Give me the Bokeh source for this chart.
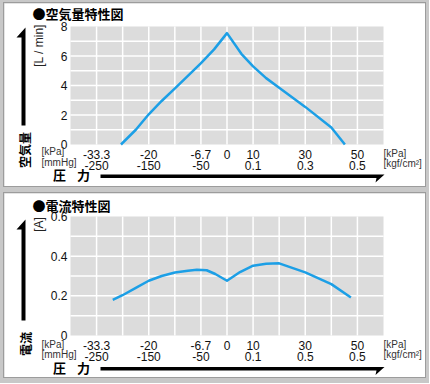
import numpy as np
from bokeh.plotting import figure
from bokeh.models import Range1d, FixedTicker, Label, PolyAnnotation, BoxAnnotation
from bokeh.layouts import column
from bokeh.embed import file_html
from bokeh.resources import INLINE

# ---------------- data ----------------
air_kpa = [-27.1, -23.3, -20, -16.7, -13.3, -10, -6.7, -3.3, 0, 5.5, 10, 15, 20, 30, 40, 45.2]
air_flow = [0, 1.0, 2.05, 2.95, 3.8, 4.65, 5.5, 6.45, 7.55, 6.15, 5.3, 4.5, 3.84, 2.55, 1.15, 0]

cur_kpa = [-29.2, -26.7, -23.3, -20, -16.7, -13.3, -10, -7.7, -5.2, -3, 0, 5, 10, 15, 20, 30, 40, 47.5]
cur_amp = [0.18, 0.203, 0.24, 0.276, 0.30, 0.318, 0.327, 0.331, 0.329, 0.31, 0.276, 0.32, 0.352, 0.362, 0.364, 0.318, 0.259, 0.192]

x_tick_kpa = ["-33.3", "-20", "-6.7", "0", "10", "30", "50"]
x_tick_sub_air = ["-250", "-150", "-50", "", "0.1", "0.3", "0.5"]
x_tick_sub_cur = ["-250", "-150", "-50", "", "0.1", "0.5", "0.5"]

air_yticks = [0, 2, 4, 6, 8]
air_ytick_labels = ["0", "2", "4", "6", "8"]
cur_yticks = [0, 0.2, 0.4, 0.6]
cur_ytick_labels = ["0", "0.2", "0.4", "0.6"]

LATIN = "Liberation Sans"
CJK = "Noto Sans CJK JP"
BLUE = "#1c9fe6"


def to_grid(kpa):
    k = np.asarray(kpa, dtype=float)
    return np.where(k < 0, k / (20.0 / 3.0), k / 10.0)


XMIN, XMAX = -6, 6
W = 421
AL, AT, AW = 66, 23, 313
REF_LEFT = 70  # reference x of the plot area's left edge


def make_chart(H, AH, xs_kpa, ys, ymax, ygrid, yticks, ylabels, sub_labels, fb_ref, texts, polys):
    ppx = AW / (XMAX - XMIN)
    ppy = AH / ymax
    xr = Range1d(XMIN - AL / ppx, XMAX + (W - AL - AW) / ppx)
    yr = Range1d(0 - (H - AT - AH) / ppy, ymax + AT / ppy)
    p = figure(width=W, height=H, x_range=xr, y_range=yr,
               output_backend="svg", toolbar_location=None,
               min_border=0, min_border_left=0, min_border_right=0,
               min_border_top=0, min_border_bottom=0)
    p.background_fill_color = "white"
    p.border_fill_color = "white"
    p.outline_line_color = None
    p.grid.visible = False

    p.add_layout(BoxAnnotation(left=XMIN, right=XMAX, bottom=0, top=ymax,
                               fill_color="#dcdcdc", fill_alpha=1.0, line_color=None,
                               level="underlay"))
    gx = list(range(XMIN + 1, XMAX))
    p.segment(x0=gx, y0=[0] * len(gx), x1=gx, y1=[ymax] * len(gx),
              line_color="white", line_width=1.5)
    p.segment(x0=[XMIN] * len(ygrid), y0=ygrid, x1=[XMAX] * len(ygrid), y1=ygrid,
              line_color="white", line_width=1.5)

    tick_pos = [int(v) for v in np.round(to_grid([float(t) for t in x_tick_kpa]))]
    overrides = {}
    for pos, a, b in zip(tick_pos, x_tick_kpa, sub_labels):
        overrides[pos] = a if b == "" else a + "\n" + b
    p.xaxis.fixed_location = 0
    p.yaxis.fixed_location = XMIN
    p.xaxis.ticker = FixedTicker(ticks=tick_pos)
    p.xaxis.major_label_overrides = overrides
    p.yaxis.ticker = FixedTicker(ticks=yticks)
    p.yaxis.major_label_overrides = {t: l for t, l in zip(yticks, ylabels)}
    for ax in (p.xaxis, p.yaxis):
        ax.axis_line_color = None
        ax.major_tick_line_color = None
        ax.minor_tick_line_color = None
        ax.major_tick_in = 0
        ax.major_tick_out = 0
        ax.major_label_text_font = LATIN
        ax.major_label_text_font_size = "12px"
        ax.major_label_text_color = "#111111"
    p.xaxis.major_label_standoff = 3
    p.xaxis.major_label_text_line_height = 0.82
    p.yaxis.major_label_standoff = 3

    p.line(to_grid(xs_kpa), ys, line_color=BLUE, line_width=2.5, line_join="round")

    def X(rx):
        return XMIN + (rx - REF_LEFT) / ppx

    def Y(ry):
        return (fb_ref - ry) / ppy

    for (rx, ry, txt, size, font, bold, align, angle, color) in texts:
        p.add_layout(Label(x=X(rx), y=Y(ry), text=txt,
                           text_font=font, text_font_size=f"{size}px",
                           text_font_style="bold" if bold else "normal",
                           text_align=align, text_baseline="middle", angle=angle,
                           text_color=color))
    for pxs, pys in polys:
        p.add_layout(PolyAnnotation(xs=[X(v) for v in pxs], ys=[Y(v) for v in pys],
                                    fill_color="black", fill_alpha=1.0, line_color=None))
    return p


R = np.pi / 2
top_texts = [
    (32, 13, "●空気量特性図", 13, CJK, True, "left", 0, "black"),
    (38.5, 45, "[L / min]", 12, LATIN, False, "center", R, "#222222"),
    (24, 149.5, "空気量", 12, CJK, True, "center", R, "black"),
    (41, 151, "[kPa]", 10, LATIN, False, "left", 0, "#333333"),
    (41, 162, "[mmHg]", 10, LATIN, False, "left", 0, "#333333"),
    (383, 153, "[kPa]", 10, LATIN, False, "left", 0, "#333333"),
    (383, 163, "[kgf/cm²]", 10, LATIN, False, "left", 0, "#333333"),
    (59, 174, "圧", 13, CJK, True, "center", 0, "black"),
    (83, 174, "力", 13, CJK, True, "center", 0, "black"),
]
top_polys = [
    ([25, 25, 21, 21, 16], [27, 125, 125, 37, 37]),
    ([100, 384, 375, 376, 100], [174, 174, 182, 177.5, 177.5]),
]

bot_texts = [
    (32, 205, "●電流特性図", 13, CJK, True, "left", 0, "black"),
    (38.5, 224, "[A]", 12, LATIN, False, "center", R, "#222222"),
    (25, 343.5, "電流", 12, CJK, True, "center", R, "black"),
    (41, 344, "[kPa]", 10, LATIN, False, "left", 0, "#333333"),
    (41, 354, "[mmHg]", 10, LATIN, False, "left", 0, "#333333"),
    (383, 344, "[kPa]", 10, LATIN, False, "left", 0, "#333333"),
    (383, 354, "[kgf/cm²]", 10, LATIN, False, "left", 0, "#333333"),
    (59, 367, "圧", 13, CJK, True, "center", 0, "black"),
    (83, 367, "力", 13, CJK, True, "center", 0, "black"),
]
bot_polys = [
    ([25, 25, 21, 21, 16], [219, 320, 320, 229, 229]),
    ([100, 384, 375, 376, 100], [366.5, 366.5, 374.5, 370, 370]),
]

# panel origins in the reference: top (4, 3), bottom (4, 193)
p1 = make_chart(183, 118, air_kpa, air_flow, 8, list(range(1, 8)), air_yticks, air_ytick_labels,
                x_tick_sub_air, 144 - 3, [(t[0], t[1] - 3) + t[2:] for t in top_texts],
                [(xs, [v - 3 for v in ys]) for xs, ys in top_polys])
p2 = make_chart(184, 119, cur_kpa, cur_amp, 0.6, [0.1, 0.2, 0.3, 0.4, 0.5], cur_yticks,
                cur_ytick_labels, x_tick_sub_cur, 335 - 193,
                [(t[0], t[1] - 193) + t[2:] for t in bot_texts],
                [(xs, [v - 193 for v in ys]) for xs, ys in bot_polys])
for p in (p1, p2):
    p.styles = {"outline": "1px solid #9c9c9c"}

layout = column(p1, p2, spacing=7,
                styles={"background-color": "#c8c8c8", "padding": "3px 4px 6px 4px"})

open("out.html", "w").write(file_html(layout, INLINE))
